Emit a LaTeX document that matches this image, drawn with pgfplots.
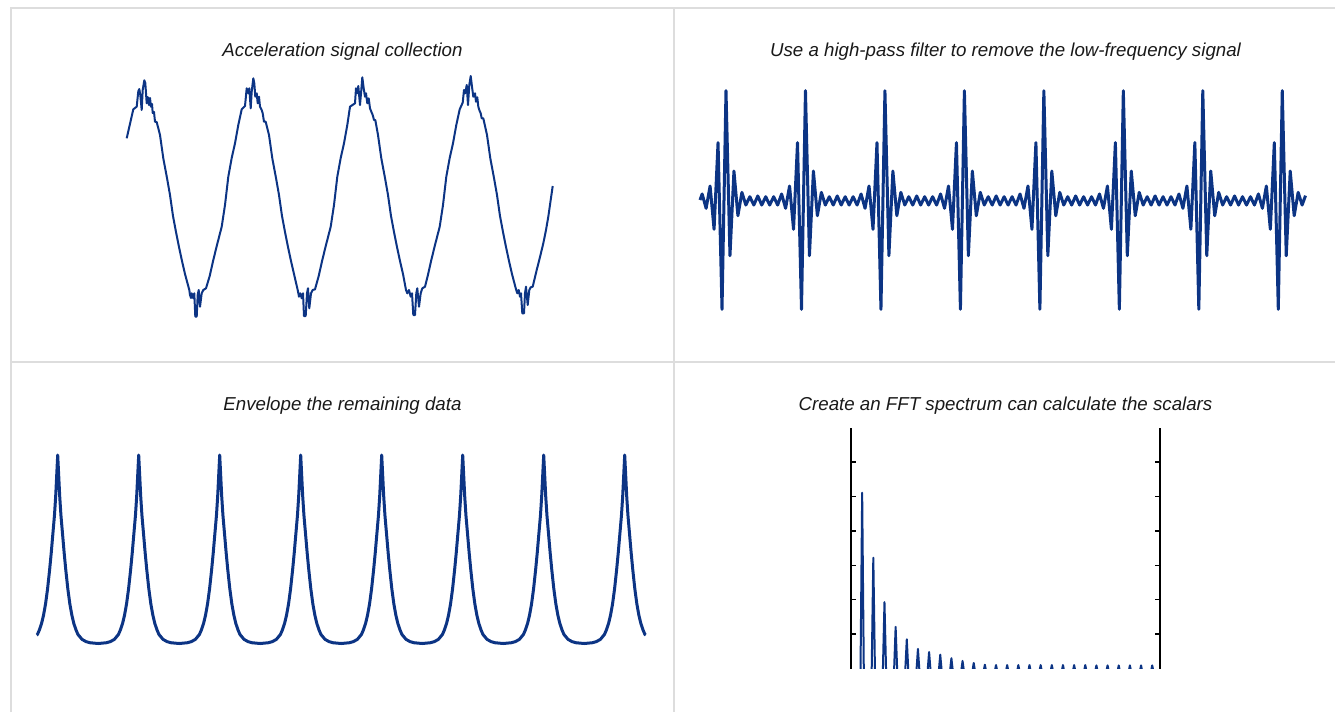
\documentclass[border=0pt]{standalone}
\usepackage{fontspec}
\setmainfont{Liberation Sans}
\usepackage{pgfplots}
\pgfplotsset{compat=1.18}
\definecolor{sig}{RGB}{12,52,132}
\definecolor{gridc}{RGB}{221,221,221}
\pgfplotsset{panel/.style={scale only axis, anchor=north west, hide axis, clip=false}}

\begin{document}
\begin{tikzpicture}[x=1pt,y=-1pt]
\path[use as bounding box] (0,0) rectangle (1335,712);
% panel frame
\draw[gridc, line width=2pt] (11,712) -- (11,8) -- (1335,8);
\draw[gridc, line width=2pt] (674,8) -- (674,712);
\draw[gridc, line width=2pt] (11,362) -- (1335,362);
\tikzset{ttl/.style={font=\fontsize{18.7}{22}\selectfont\itshape, text=black!90}}
\node[ttl] at (342.5,52) {Acceleration signal collection};
\node[ttl] at (1005.5,52) {Use a high-pass filter to remove the low-frequency signal};
\node[ttl] at (342.5,406) {Envelope the remaining data};
\node[ttl] at (1005.5,406) {Create an FFT spectrum can calculate the scalars};

\coordinate (a1) at (120,70);
\coordinate (a2) at (700,90.7);
\coordinate (a3) at (33.4,455);
\coordinate (a4) at (851,427.7);

% raw acceleration signal
\begin{axis}[panel, at={(a1)}, width=440pt, height=260pt,
  xmin=120, xmax=560, ymin=70, ymax=330, y dir=reverse]
\addplot[sig, line width=2pt, line join=round] coordinates {
(126.7,138.3)(133.3,109.3)(136.7,106.7)(138.3,91.3)(139.3,89)(140.3,95)(141.7,110)(142.7,90)(144.3,80.3)(145.3,83)(146.7,103.3)(147.7,97)(149,105)(150,98)(151,106.7)(152,104)(152.7,113)(154,112)(155,121.7)(156.7,122)
(160,135)(163.3,158.3)(167,178)(170,195)(173,216)(176,232)(179,247)(182,261)(185,274)(189.3,290)
(190,295)(191,298)(191.7,293.3)(193.3,298.3)(194.3,293.3)(195.3,316.7)(196.7,316.7)(197.7,295)(198.7,290)(200,306.7)(201.7,293.3)(203.3,290)(206,288.3)
(209.7,276)(213.3,260)(217,245)(221.7,226.7)(225,205)(228.3,176.7)(231.7,158)(235,143.3)(238.3,125)(241.7,109.3)(245,106)
(246.7,88.3)(248.3,93.3)(249.3,88.3)(250.7,108.3)(251.7,91.7)(253.3,78.3)(254.3,83.3)(255.3,96.7)(256.7,93.3)(257.7,103.3)(259,96.7)(260,106.7)(261.7,110)(262.7,113.3)(264,121.7)(265.7,121.7)
(269,135)(272.3,158.3)(276,178)(279,195)(282,216)(285,232)(288,247)(291,261)(294,274)(297.7,290)
(299,296.7)(300.3,293.3)(301.7,298.3)(303,293.3)(304,316)(305.7,316)(307,293.3)(308,288.3)(309.3,308.3)(311,293.3)(312.7,290)(315,289.3)
(318.7,276)(322.3,260)(326,245)(330.7,226.7)(334,205)(337.3,176.7)(340.7,158)(344,143.3)(347.3,125)(350,106.7)
(355,103.3)(356,88.3)(357.3,93.3)(358.3,86)(360,105)(361.3,90)(362.3,77.3)(363.7,88.3)(365,96.7)(366,93.3)(367.3,103.3)(368.7,98.3)(370,108.3)(371.3,111.7)(372.7,115)(374,120)(375.3,120)
(378,135)(381.3,158.3)(385,178)(388,195)(391,216)(394,232)(397,247)(400,261)(403,274)(406,290)
(407.3,293.3)(409,290)(410.7,296.7)(412,293.3)(413.3,315)(415,315)(416.3,293.3)(417.3,288.3)(419,306.7)(420.7,293.3)(422.3,288.3)(425,286.7)
(427.7,276)(431.3,260)(435,245)(439.7,226.7)(443,205)(446.3,176.7)(449.7,158)(453,143.3)(456.3,125)(459.7,109.3)
(462.7,102.7)(464,90)(465.3,93.3)(466.7,85)(468,105)(469.3,85)(470.7,76)(472,86.7)(473.3,96.7)(475,93.3)(476,101.7)(477.3,97.3)(478.3,106.7)(479.3,110)(480.7,113.3)(481.7,118.3)(483.3,118.3)
(487,135)(490.3,158.3)(494,178)(497,195)(500,216)(503,232)(506,247)(509,261)(512,274)(516,289.3)
(517.3,293.3)(518.7,290)(520,296.7)(521,293.3)(522.3,313.3)(524,313.3)(525,293.3)(526,286.7)(527.7,305)(529.3,290)(530.7,287.3)(532.7,286.7)
(536.7,270)(540,257)(543.3,243.3)(546,230)(548.3,216.7)(552.7,186)
};
\end{axis}

% high-pass filtered signal (sample index, normalised amplitude)
\begin{axis}[panel, at={(a2)}, width=605.5pt, height=218.6pt,
  xmin=-5.54, xmax=146.85, ymin=-1, ymax=1]
\addplot[sig, line width=3pt, line join=round] coordinates {
(-5.54,0)
(-5,0.055)(-4,-0.076)(-3,0.128)(-2,-0.268)(-1,0.525)(0,-1)(1,1)(2,-0.51)(3,0.265)(4,-0.144)(5,0.07)(6,-0.046)(7,0.03)(8,-0.046)(9,0.037)(10,-0.046)(11,0.03)(12,-0.046)(13,0.03)(14,-0.046)
(15,0.055)(16,-0.076)(17,0.128)(18,-0.268)(19,0.525)(20,-1)(21,1)(22,-0.51)(23,0.265)(24,-0.144)(25,0.07)(26,-0.046)(27,0.03)(28,-0.046)(29,0.037)(30,-0.046)(31,0.03)(32,-0.046)(33,0.03)(34,-0.046)
(35,0.055)(36,-0.076)(37,0.128)(38,-0.268)(39,0.525)(40,-1)(41,1)(42,-0.51)(43,0.265)(44,-0.144)(45,0.07)(46,-0.046)(47,0.03)(48,-0.046)(49,0.037)(50,-0.046)(51,0.03)(52,-0.046)(53,0.03)(54,-0.046)
(55,0.055)(56,-0.076)(57,0.128)(58,-0.268)(59,0.525)(60,-1)(61,1)(62,-0.51)(63,0.265)(64,-0.144)(65,0.07)(66,-0.046)(67,0.03)(68,-0.046)(69,0.037)(70,-0.046)(71,0.03)(72,-0.046)(73,0.03)(74,-0.046)
(75,0.055)(76,-0.076)(77,0.128)(78,-0.268)(79,0.525)(80,-1)(81,1)(82,-0.51)(83,0.265)(84,-0.144)(85,0.07)(86,-0.046)(87,0.03)(88,-0.046)(89,0.037)(90,-0.046)(91,0.03)(92,-0.046)(93,0.03)(94,-0.046)
(95,0.055)(96,-0.076)(97,0.128)(98,-0.268)(99,0.525)(100,-1)(101,1)(102,-0.51)(103,0.265)(104,-0.144)(105,0.07)(106,-0.046)(107,0.03)(108,-0.046)(109,0.037)(110,-0.046)(111,0.03)(112,-0.046)(113,0.03)(114,-0.046)
(115,0.055)(116,-0.076)(117,0.128)(118,-0.268)(119,0.525)(120,-1)(121,1)(122,-0.51)(123,0.265)(124,-0.144)(125,0.07)(126,-0.046)(127,0.03)(128,-0.046)(129,0.037)(130,-0.046)(131,0.03)(132,-0.046)(133,0.03)(134,-0.046)
(135,0.055)(136,-0.076)(137,0.128)(138,-0.268)(139,0.525)(140,-1)(141,1)(142,-0.51)(143,0.265)(144,-0.144)(145,0.07)(146,-0.046)
(146.85,0.04)
};
\end{axis}

% envelope (time in periods, normalised envelope)
\begin{axis}[panel, at={(a3)}, width=615.6pt, height=188.5pt,
  xmin=-0.3, xmax=7.3, ymin=0, ymax=1]
\addplot[sig, line width=3pt, line join=round] coordinates {
(-0.26,0.045)(-0.25,0.048)(-0.225,0.073)(-0.2,0.105)(-0.175,0.15)(-0.15,0.21)(-0.125,0.29)(-0.1,0.39)(-0.08,0.48)(-0.06,0.58)(-0.04,0.68)(-0.025,0.78)(-0.0125,0.89)
(0,1)(0.0125,0.89)(0.025,0.78)(0.04,0.68)(0.06,0.58)(0.08,0.48)(0.1,0.39)(0.125,0.29)(0.15,0.21)(0.175,0.15)(0.2,0.105)(0.225,0.073)(0.25,0.048)(0.3,0.022)(0.35,0.01)(0.4,0.004)(0.5,0)(0.6,0.004)(0.65,0.01)(0.7,0.022)(0.75,0.048)(0.775,0.073)(0.8,0.105)(0.825,0.15)(0.85,0.21)(0.875,0.29)(0.9,0.39)(0.92,0.48)(0.94,0.58)(0.96,0.68)(0.975,0.78)(0.9875,0.89)
(1,1)(1.0125,0.89)(1.025,0.78)(1.04,0.68)(1.06,0.58)(1.08,0.48)(1.1,0.39)(1.125,0.29)(1.15,0.21)(1.175,0.15)(1.2,0.105)(1.225,0.073)(1.25,0.048)(1.3,0.022)(1.35,0.01)(1.4,0.004)(1.5,0)(1.6,0.004)(1.65,0.01)(1.7,0.022)(1.75,0.048)(1.775,0.073)(1.8,0.105)(1.825,0.15)(1.85,0.21)(1.875,0.29)(1.9,0.39)(1.92,0.48)(1.94,0.58)(1.96,0.68)(1.975,0.78)(1.9875,0.89)
(2,1)(2.0125,0.89)(2.025,0.78)(2.04,0.68)(2.06,0.58)(2.08,0.48)(2.1,0.39)(2.125,0.29)(2.15,0.21)(2.175,0.15)(2.2,0.105)(2.225,0.073)(2.25,0.048)(2.3,0.022)(2.35,0.01)(2.4,0.004)(2.5,0)(2.6,0.004)(2.65,0.01)(2.7,0.022)(2.75,0.048)(2.775,0.073)(2.8,0.105)(2.825,0.15)(2.85,0.21)(2.875,0.29)(2.9,0.39)(2.92,0.48)(2.94,0.58)(2.96,0.68)(2.975,0.78)(2.9875,0.89)
(3,1)(3.0125,0.89)(3.025,0.78)(3.04,0.68)(3.06,0.58)(3.08,0.48)(3.1,0.39)(3.125,0.29)(3.15,0.21)(3.175,0.15)(3.2,0.105)(3.225,0.073)(3.25,0.048)(3.3,0.022)(3.35,0.01)(3.4,0.004)(3.5,0)(3.6,0.004)(3.65,0.01)(3.7,0.022)(3.75,0.048)(3.775,0.073)(3.8,0.105)(3.825,0.15)(3.85,0.21)(3.875,0.29)(3.9,0.39)(3.92,0.48)(3.94,0.58)(3.96,0.68)(3.975,0.78)(3.9875,0.89)
(4,1)(4.0125,0.89)(4.025,0.78)(4.04,0.68)(4.06,0.58)(4.08,0.48)(4.1,0.39)(4.125,0.29)(4.15,0.21)(4.175,0.15)(4.2,0.105)(4.225,0.073)(4.25,0.048)(4.3,0.022)(4.35,0.01)(4.4,0.004)(4.5,0)(4.6,0.004)(4.65,0.01)(4.7,0.022)(4.75,0.048)(4.775,0.073)(4.8,0.105)(4.825,0.15)(4.85,0.21)(4.875,0.29)(4.9,0.39)(4.92,0.48)(4.94,0.58)(4.96,0.68)(4.975,0.78)(4.9875,0.89)
(5,1)(5.0125,0.89)(5.025,0.78)(5.04,0.68)(5.06,0.58)(5.08,0.48)(5.1,0.39)(5.125,0.29)(5.15,0.21)(5.175,0.15)(5.2,0.105)(5.225,0.073)(5.25,0.048)(5.3,0.022)(5.35,0.01)(5.4,0.004)(5.5,0)(5.6,0.004)(5.65,0.01)(5.7,0.022)(5.75,0.048)(5.775,0.073)(5.8,0.105)(5.825,0.15)(5.85,0.21)(5.875,0.29)(5.9,0.39)(5.92,0.48)(5.94,0.58)(5.96,0.68)(5.975,0.78)(5.9875,0.89)
(6,1)(6.0125,0.89)(6.025,0.78)(6.04,0.68)(6.06,0.58)(6.08,0.48)(6.1,0.39)(6.125,0.29)(6.15,0.21)(6.175,0.15)(6.2,0.105)(6.225,0.073)(6.25,0.048)(6.3,0.022)(6.35,0.01)(6.4,0.004)(6.5,0)(6.6,0.004)(6.65,0.01)(6.7,0.022)(6.75,0.048)(6.775,0.073)(6.8,0.105)(6.825,0.15)(6.85,0.21)(6.875,0.29)(6.9,0.39)(6.92,0.48)(6.94,0.58)(6.96,0.68)(6.975,0.78)(6.9875,0.89)
(7,1)(7.0125,0.89)(7.025,0.78)(7.04,0.68)(7.06,0.58)(7.08,0.48)(7.1,0.39)(7.125,0.29)(7.15,0.21)(7.175,0.15)(7.2,0.105)(7.225,0.073)(7.25,0.048)(7.26,0.045)
};
\end{axis}

% FFT spectrum (bin, magnitude)
\begin{axis}[at={(a4)}, anchor=north west, scale only axis,
  width=309pt, height=240.8pt,
  xmin=0, xmax=27.7, ymin=0, ymax=7,
  separate axis lines,
  x axis line style={draw=none},
  y axis line style={black, line width=1.5pt},
  xtick=\empty, ytick={1,2,3,4,5,6}, yticklabels={},
  ytick pos=both, tick align=inside, major tick length=5pt,
  every tick/.style={black, line width=1.5pt}]
\addplot[sig, line width=2pt, line join=round] coordinates {
(0.85,-0.15)(1,5.11)(1.15,-0.15)
(1.85,-0.15)(2,3.22)(2.15,-0.15)
(2.85,-0.15)(3,1.93)(3.15,-0.15)
(3.85,-0.15)(4,1.21)(4.15,-0.15)
(4.85,-0.15)(5,0.85)(5.15,-0.15)
(5.85,-0.15)(6,0.57)(6.15,-0.15)
(6.85,-0.15)(7,0.48)(7.15,-0.15)
(7.85,-0.15)(8,0.40)(8.15,-0.15)
(8.85,-0.15)(9,0.30)(9.15,-0.15)
(9.85,-0.15)(10,0.22)(10.15,-0.15)
(10.85,-0.15)(11,0.16)(11.15,-0.15)
(11.85,-0.15)(12,0.11)(12.15,-0.15)
(12.85,-0.15)(13,0.10)(13.15,-0.15)
(13.85,-0.15)(14,0.10)(14.15,-0.15)
(14.85,-0.15)(15,0.10)(15.15,-0.15)
(15.85,-0.15)(16,0.10)(16.15,-0.15)
(16.85,-0.15)(17,0.10)(17.15,-0.15)
(17.85,-0.15)(18,0.10)(18.15,-0.15)
(18.85,-0.15)(19,0.10)(19.15,-0.15)
(19.85,-0.15)(20,0.10)(20.15,-0.15)
(20.85,-0.15)(21,0.10)(21.15,-0.15)
(21.85,-0.15)(22,0.09)(22.15,-0.15)
(22.85,-0.15)(23,0.09)(23.15,-0.15)
(23.85,-0.15)(24,0.09)(24.15,-0.15)
(24.85,-0.15)(25,0.09)(25.15,-0.15)
(25.85,-0.15)(26,0.09)(26.15,-0.15)
(26.85,-0.15)(27,0.09)(27.15,-0.15)
};
\end{axis}
\end{tikzpicture}
\end{document}
